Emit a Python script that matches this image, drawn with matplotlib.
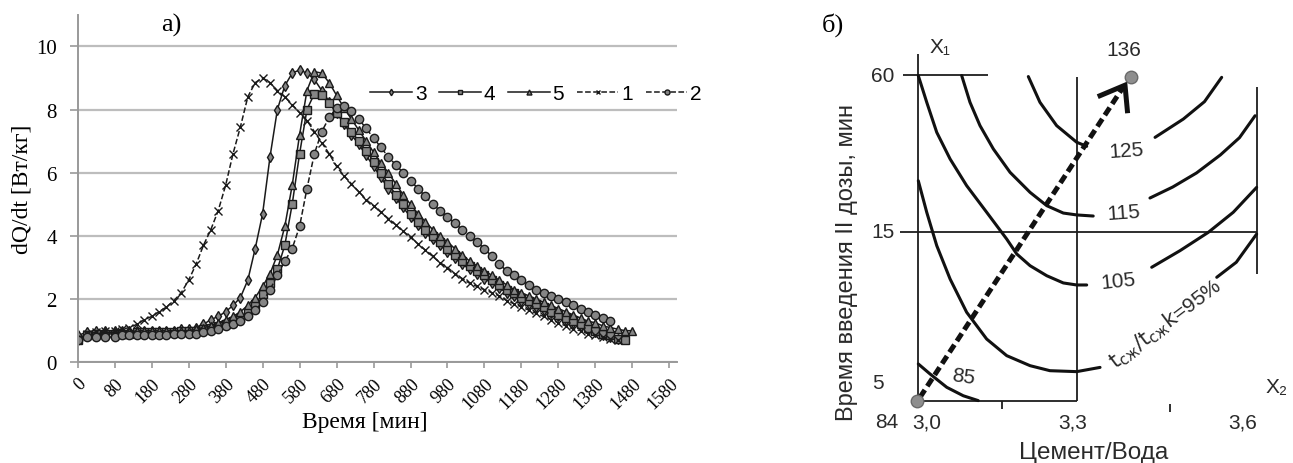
import numpy as np
import matplotlib
matplotlib.use('Agg')
import matplotlib.pyplot as plt

# --- данные левого графика: скорость тепловыделения ---
x_ticks = [0, 80, 180, 280, 380, 480, 580, 680, 780, 880, 980, 1080,
           1180, 1280, 1380, 1480, 1580]
step = 20  # шаг по времени, мин

q1 = [0.75, 0.9, 0.95, 1.0, 1.0, 1.05, 1.1, 1.2, 1.35, 1.45, 1.6, 1.75, 1.95,
      2.2, 2.6, 3.1, 3.7, 4.2, 4.8, 5.6, 6.6, 7.45, 8.4, 8.85, 9.0, 8.85, 8.6,
      8.4, 8.15, 7.9, 7.65, 7.3, 6.95, 6.6, 6.2, 5.9, 5.65, 5.4, 5.15, 4.95,
      4.75, 4.55, 4.35, 4.15, 3.95, 3.75, 3.55, 3.35, 3.15, 3.0, 2.8, 2.65,
      2.5, 2.4, 2.3, 2.2, 2.1, 1.95, 1.85, 1.75, 1.65, 1.55, 1.45, 1.35, 1.25,
      1.15, 1.05, 1.0, 0.9, 0.85, 0.8, 0.75, 0.7]
q2 = [0.7, 0.8, 0.8, 0.8, 0.8, 0.85, 0.85, 0.85, 0.85, 0.85, 0.85, 0.85, 0.9,
      0.9, 0.9, 0.9, 0.95, 1.0, 1.05, 1.15, 1.2, 1.3, 1.45, 1.65, 1.9, 2.3,
      2.75, 3.2, 3.6, 4.3, 5.5, 6.6, 7.3, 7.75, 8.05, 8.1, 7.95, 7.7, 7.4,
      7.1, 6.8, 6.5, 6.25, 6.0, 5.75, 5.5, 5.25, 5.0, 4.8, 4.6, 4.4, 4.2,
      4.0, 3.8, 3.6, 3.35, 3.1, 2.9, 2.75, 2.6, 2.45, 2.3, 2.2, 2.1, 2.0,
      1.9, 1.8, 1.7, 1.6, 1.5, 1.4, 1.3]
q3 = [0.85, 0.95, 1.0, 1.0, 1.0, 1.0, 1.0, 1.0, 1.0, 1.0, 1.0, 1.0, 1.0,
      1.05, 1.05, 1.1, 1.2, 1.35, 1.45, 1.6, 1.8, 2.05, 2.6, 3.6, 4.7, 6.5,
      8.0, 8.75, 9.15, 9.25, 9.15, 8.95, 8.6, 8.25, 7.9, 7.55, 7.2, 6.9,
      6.55, 6.2, 5.85, 5.5, 5.2, 4.9, 4.6, 4.35, 4.1, 3.9, 3.7, 3.5, 3.3,
      3.1, 2.95, 2.8, 2.65, 2.5, 2.35, 2.2, 2.1, 1.95, 1.85, 1.75, 1.65, 1.55,
      1.45, 1.35, 1.25, 1.15, 1.05, 0.95, 0.85, 0.8, 0.75]
q4 = [0.7, 0.85, 0.9, 0.9, 0.9, 0.9, 0.9, 0.95, 0.95, 0.95, 0.95, 0.95, 0.95,
      1.0, 1.0, 1.0, 1.05, 1.1, 1.15, 1.2, 1.3, 1.4, 1.6, 1.85, 2.15, 2.5,
      2.95, 3.7, 5.0, 6.6, 8.0, 8.5, 8.45, 8.2, 7.9, 7.6, 7.3, 7.0, 6.7,
      6.35, 6.0, 5.65, 5.3, 5.0, 4.7, 4.45, 4.2, 4.0, 3.8, 3.6, 3.4, 3.2,
      3.05, 2.9, 2.75, 2.6, 2.45, 2.3, 2.2, 2.05, 1.95, 1.85, 1.75, 1.6, 1.5,
      1.4, 1.3, 1.2, 1.1, 1.0, 0.9, 0.85, 0.75, 0.7]
q5 = [0.75, 0.85, 0.9, 0.95, 0.95, 0.95, 0.95, 1.0, 1.0, 1.0, 1.0, 1.0, 1.0,
      1.0, 1.0, 1.05, 1.1, 1.15, 1.25, 1.35, 1.45, 1.6, 1.8, 2.05, 2.4, 2.8,
      3.4, 4.3, 5.6, 7.2, 8.6, 9.2, 9.15, 8.85, 8.45, 8.05, 7.7, 7.35, 7.0,
      6.65, 6.3, 6.0, 5.65, 5.3, 5.0, 4.7, 4.45, 4.2, 4.0, 3.8, 3.6, 3.4,
      3.2, 3.05, 2.9, 2.75, 2.6, 2.45, 2.3, 2.2, 2.1, 2.0, 1.9, 1.8, 1.7, 1.6,
      1.5, 1.4, 1.3, 1.25, 1.15, 1.1, 1.05, 1.0, 1.0]

series = [  # имя, значения, линия, маркер
    ('3', q3, '-', 'd'),
    ('4', q4, '-', 's'),
    ('5', q5, '-', '^'),
    ('1', q1, '--', 'x'),
    ('2', q2, '--', 'o'),
]

# --- данные правого графика (кодированные координаты) ---
c105_a = [(-1.0, 0.996), (-0.947, 0.826), (-0.884, 0.634), (-0.80, 0.464),
          (-0.696, 0.294), (-0.570, 0.124), (-0.444, -0.047), (-0.381, -0.142),
          (-0.297, -0.217), (-0.192, -0.281), (-0.088, -0.327), (-0.004, -0.340),
          (0.059, -0.340)]
c105_b = [(0.468, -0.227), (0.646, -0.121), (0.824, -0.004), (0.981, 0.124),
          (1.128, 0.283)]
c115_a = [(-0.727, 0.996), (-0.675, 0.826), (-0.612, 0.677), (-0.528, 0.528),
          (-0.423, 0.379), (-0.297, 0.251), (-0.192, 0.166), (-0.088, 0.119),
          (-0.004, 0.107), (0.10, 0.100)]
c115_b = [(0.457, 0.215), (0.60, 0.285), (0.75, 0.375), (0.90, 0.49),
          (1.02, 0.60), (1.118, 0.74)]
c125_a = [(-0.308, 0.990), (-0.235, 0.826), (-0.130, 0.677), (-0.004, 0.571),
          (0.059, 0.545)]
c125_b = [(0.489, 0.602), (0.667, 0.719), (0.80, 0.83), (0.908, 0.985)]
c95_a = [(-1.0, 0.325), (-0.947, 0.124), (-0.884, -0.089), (-0.80, -0.302),
         (-0.696, -0.514), (-0.570, -0.685), (-0.444, -0.791), (-0.297, -0.855),
         (-0.172, -0.887), (-0.004, -0.893), (0.143, -0.866)]
c95_b = [(0.877, -0.291), (1.0, -0.195), (1.128, -0.015)]
c85 = [(-1.0, -0.844), (-0.926, -0.908), (-0.821, -0.993), (-0.717, -1.047),
       (-0.623, -1.078)]
curves = [c105_a, c105_b, c115_a, c115_b, c125_a, c125_b, c95_a, c95_b, c85]

y_lbl = ['60', '15', '5']
y_lbl_pos = [1.0, 0.0, -0.96]
x_lbl = ['3,0', '3,3', '3,6']
x_lbl_pos = [-0.945, -0.027, 1.043]
p_start = (-1.01, -1.078)   # 84
p_end = (0.338, 0.989)      # 136

serif = ['Liberation Serif', 'DejaVu Serif']
sans = ['Liberation Sans', 'DejaVu Sans']
W, H = 1293, 464


def pos(t):
    return np.interp(t, x_ticks, np.arange(len(x_ticks)))


fig = plt.figure(figsize=(W / 100, H / 100), dpi=100)

# ===== а) =====
ax = fig.add_axes([77.7 / W, (H - 363.3) / H, 16.2 * 36.98 / W, 11 * 31.6 / H])
for name, q, ls, mk in series:
    t = np.arange(len(q)) * step
    ax.plot(pos(t), q, ls=ls, marker=mk, color='#1a1a1a', lw=1.1,
            ms=6 if mk != 'd' else 5.5, mfc='#858585', mec='#1a1a1a',
            mew=1.0, label=name)

ax.set_xlim(0, 16.2)
ax.set_ylim(0, 11)
ax.set_yticks(range(0, 11, 2))
ax.yaxis.grid(True, color='#bdbdbd', lw=1.6)
ax.set_axisbelow(True)
ax.set_xticks(range(len(x_ticks)))
ax.set_xticklabels([str(v) for v in x_ticks], rotation=45, ha='right',
                   va='top', rotation_mode='anchor', family=serif, fontsize=13)
for lab in ax.get_yticklabels():
    lab.set_family(serif)
ax.tick_params(axis='y', length=6, width=1.2, color='#999999', labelsize=15, pad=9)
ax.tick_params(axis='x', length=4, width=1.2, color='#999999', pad=5)
for s in ['top', 'right']:
    ax.spines[s].set_visible(False)
for s in ['left', 'bottom']:
    ax.spines[s].set_color('#999999')
    ax.spines[s].set_linewidth(1.4)

ax.set_ylabel('dQ/dt [Вт/кг]', family=serif, fontsize=17)
ax.yaxis.set_label_coords(-0.075, 0.5)
ax.set_xlabel('Время [мин]', family=serif, fontsize=17)
ax.xaxis.set_label_coords(0.48, -0.14)
fig.text(171 / W, 1 - 25 / H, 'а)', family=serif, fontsize=19,
         ha='center', va='center')

ax.legend(loc='center left', bbox_to_anchor=(370 / W, 1 - 95 / H),
          bbox_transform=fig.transFigure, ncol=5, frameon=False,
          handlelength=2.0, handletextpad=0.15, columnspacing=0.6,
          borderaxespad=0, borderpad=0, markerscale=0.6,
          prop={'family': sans, 'size': 15})

# ===== б) =====
bx = fig.add_axes([780 / W, 0, 513 / W, 1])
bx.set_xlim((780 - 1077.3) / 159, (1293 - 1077.3) / 159)
bx.set_ylim((232.7 - 464) / 156.7, 232.7 / 156.7)
bx.axis('off')

k = dict(color='#1e1e1e', lw=1.3, solid_capstyle='butt')
bx.plot([-1.0, -1.0], [-1.078, 1.134], **k)
bx.plot([-1.096, -0.562], [1.0, 1.0], **k)
bx.plot([-1.116, 1.128], [0.0, 0.0], **k)
bx.plot([0.0, 0.0], [0.99, -1.078], **k)
bx.plot([-1.0, 0.0], [-1.078, -1.078], **k)
bx.plot([1.128, 1.128], [-0.27, 0.923], **k)
bx.plot([-0.475, -0.475], [-1.078, -1.13], **k)
bx.plot([0.583, 0.583], [-1.10, -1.15], **k)

for c in curves:
    cx, cy = zip(*c)
    bx.plot(cx, cy, color='#111111', lw=2.2, solid_capstyle='round',
            solid_joinstyle='round')

# пунктирная стрелка
bx.plot([p_start[0] + 0.02, 0.29], [p_start[1] + 0.02, 0.925], color='#111111',
        lw=3.6, dashes=(1.8, 0.9))
bx.plot([0.143, 0.30, 0.315], [0.868, 0.935, 0.772], color='#111111',
        lw=3.6, solid_joinstyle='miter')
for p in (p_start, p_end):
    bx.plot(*p, 'o', ms=9, mfc='#8e8e8e', mec='#6a6a6a', mew=1.0)

tk = dict(family=sans, fontsize=15, color='#2a2a2a', ha='center', va='center')
for s, y in zip(y_lbl, y_lbl_pos):
    bx.text(-1.222 if s != '5' else -1.253, y, s, **tk)
for s, x in zip(x_lbl, x_lbl_pos):
    bx.text(x, -1.214, s, **tk)
bx.text(-1.196, -1.214, '84', **tk)
bx.text(0.29, 1.165, '136', **tk)
bx.text(0.31, 0.517, '125', rotation=4, **tk)
bx.text(0.29, 0.124, '115', rotation=4, **tk)
bx.text(0.258, -0.313, '105', rotation=6, **tk)
bx.text(-0.717, -0.919, '85', rotation=-8, **tk)
bx.text(0.553, -0.585, r'$\mathrm{t_{сж}/t_{сж}k}$=95%', rotation=37,
        family=sans, fontsize=15, color='#2a2a2a', ha='center', va='center')
bx.text(-0.864, 1.185, 'X₁', **tk)
bx.text(1.256, -0.985, 'X₂', **tk)
bx.text(-1.448, -0.19, 'Время введения II дозы, мин', rotation=90,
        family=sans, fontsize=17, color='#2a2a2a', ha='center', va='center')
bx.text(0.10, -1.406, 'Цемент/Вода', family=sans, fontsize=17.5,
        color='#2a2a2a', ha='center', va='center')
bx.text(-1.536, 1.325, 'б)', family=serif, fontsize=19, ha='center', va='center')

fig.savefig('out.png', dpi=100)
